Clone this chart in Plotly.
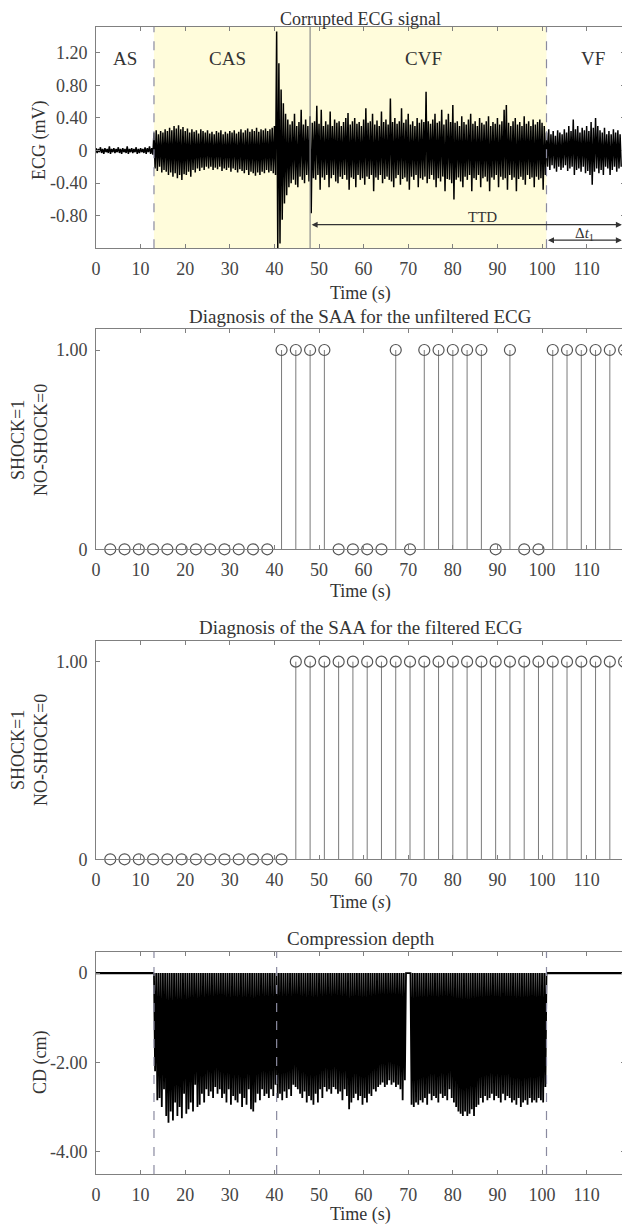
import plotly.graph_objects as go

FONT = "Liberation Serif, DejaVu Serif, serif"

# ---------------- data ----------------
# ECG: local maxima (at t) and minima (at t+0.25) every 0.5 s, t = 0 ... 117.5
ecg_step = 0.5
ecg_hi = [
    0.03, 0.02, 0.04, 0.02, 0.03, 0.02, 0.05, 0.02, 0.03, 0.02,
    0.04, 0.02, 0.03, 0.02, 0.05, 0.02, 0.03, 0.02, 0.04, 0.02,
    0.03, 0.02, 0.04, 0.03, 0.05, 0.03, 0.22, 0.25, 0.20, 0.24,
    0.22, 0.26, 0.24, 0.28, 0.25, 0.30, 0.27, 0.31, 0.26, 0.29,
    0.24, 0.27, 0.22, 0.26, 0.23, 0.25, 0.21, 0.26, 0.24, 0.22,
    0.25, 0.21, 0.23, 0.20, 0.24, 0.22, 0.25, 0.20, 0.23, 0.21,
    0.24, 0.22, 0.25, 0.21, 0.23, 0.26, 0.22, 0.25, 0.27, 0.23,
    0.26, 0.24, 0.28, 0.23, 0.26, 0.25, 0.27, 0.24, 0.26, 0.28,
    0.30, 1.46, 1.07, 0.75, 0.58, 0.45, 0.38, 0.32, 0.36, 0.45,
    0.30, 0.35, 0.50, 0.32, 0.38, 0.30, 0.42, 0.34, 0.36, 0.55,
    0.33, 0.50, 0.30, 0.36, 0.32, 0.48, 0.30, 0.38, 0.34, 0.36,
    0.30, 0.35, 0.40, 0.46, 0.32, 0.36, 0.40, 0.33, 0.35, 0.30,
    0.38, 0.52, 0.34, 0.36, 0.45, 0.32, 0.37, 0.30, 0.48, 0.35,
    0.38, 0.32, 0.64, 0.35, 0.40, 0.33, 0.36, 0.52, 0.34, 0.38,
    0.45, 0.32, 0.36, 0.30, 0.40, 0.34, 0.38, 0.35, 0.72, 0.36,
    0.33, 0.38, 0.45, 0.34, 0.36, 0.50, 0.32, 0.38, 0.45, 0.35,
    0.56, 0.34, 0.36, 0.30, 0.42, 0.35, 0.32, 0.38, 0.45, 0.33,
    0.36, 0.30, 0.40, 0.34, 0.32, 0.36, 0.42, 0.30, 0.35, 0.33,
    0.40, 0.32, 0.36, 0.50, 0.56, 0.34, 0.30, 0.36, 0.40, 0.32,
    0.35, 0.30, 0.42, 0.33, 0.36, 0.30, 0.38, 0.32, 0.35, 0.38,
    0.34, 0.30, 0.22, 0.26, 0.20, 0.24, 0.18, 0.25, 0.22, 0.20,
    0.26, 0.22, 0.30, 0.24, 0.38, 0.26, 0.30, 0.22, 0.28, 0.25,
    0.30, 0.24, 0.35, 0.28, 0.40, 0.30, 0.25, 0.22, 0.28, 0.20,
    0.24, 0.20, 0.26, 0.22, 0.25, 0.20,
]
ecg_lo = [
    -0.03, -0.02, -0.03, -0.04, -0.02, -0.03, -0.04, -0.02, -0.03, -0.02,
    -0.03, -0.04, -0.02, -0.03, -0.04, -0.02, -0.03, -0.02, -0.04, -0.03,
    -0.02, -0.03, -0.04, -0.02, -0.04, -0.05, -0.22, -0.25, -0.20, -0.27,
    -0.24, -0.26, -0.30, -0.27, -0.32, -0.28, -0.34, -0.30, -0.36, -0.29,
    -0.30, -0.26, -0.32, -0.24, -0.27, -0.22, -0.25, -0.21, -0.24, -0.20,
    -0.22, -0.20, -0.24, -0.21, -0.23, -0.20, -0.25, -0.22, -0.24, -0.21,
    -0.26, -0.22, -0.24, -0.27, -0.23, -0.25, -0.28, -0.24, -0.30, -0.26,
    -0.28, -0.31, -0.27, -0.30, -0.26, -0.28, -0.24, -0.27, -0.25, -0.28,
    -0.30, -1.21, -1.14, -0.85, -0.65, -0.55, -0.45, -0.40, -0.36, -0.42,
    -0.45, -0.32, -0.36, -0.40, -0.30, -0.38, -0.77, -0.34, -0.36, -0.30,
    -0.48, -0.33, -0.36, -0.30, -0.45, -0.34, -0.30, -0.38, -0.40, -0.32,
    -0.35, -0.30, -0.36, -0.48, -0.33, -0.35, -0.45, -0.30, -0.36, -0.34,
    -0.42, -0.32, -0.35, -0.30, -0.50, -0.33, -0.36, -0.30, -0.40, -0.35,
    -0.32, -0.36, -0.38, -0.45, -0.34, -0.30, -0.42, -0.35, -0.33, -0.38,
    -0.48, -0.32, -0.36, -0.30, -0.45, -0.34, -0.36, -0.32, -0.40, -0.35,
    -0.30, -0.36, -0.45, -0.34, -0.38, -0.32, -0.50, -0.35, -0.36, -0.40,
    -0.60, -0.36, -0.33, -0.38, -0.45, -0.32, -0.36, -0.30, -0.50, -0.34,
    -0.36, -0.30, -0.45, -0.34, -0.32, -0.38, -0.50, -0.33, -0.36, -0.30,
    -0.45, -0.32, -0.36, -0.34, -0.48, -0.30, -0.36, -0.33, -0.50, -0.35,
    -0.32, -0.36, -0.42, -0.30, -0.35, -0.33, -0.45, -0.32, -0.36, -0.34,
    -0.48, -0.30, -0.20, -0.24, -0.18, -0.22, -0.26, -0.20, -0.24, -0.21,
    -0.18, -0.25, -0.22, -0.20, -0.30, -0.24, -0.22, -0.26, -0.20, -0.28,
    -0.25, -0.30, -0.42, -0.26, -0.22, -0.28, -0.24, -0.30, -0.20, -0.22,
    -0.30, -0.24, -0.20, -0.26, -0.22, -0.20,
]

# SAA diagnoses, one per 3.2 s analysis window
win_len = 3.2
diag_unfiltered = [0, 0, 0, 0, 0, 0, 0, 0, 0, 0, 0, 0,
                   1, 1, 1, 1, 0, 0, 0, 0, 1, 0, 1, 1, 1, 1, 1,
                   0, 1, 0, 0, 1, 1, 1, 1, 1, 1]
diag_filtered = [0, 0, 0, 0, 0, 0, 0, 0, 0, 0, 0, 0, 0,
                 1, 1, 1, 1, 1, 1, 1, 1, 1, 1, 1, 1,
                 1, 1, 1, 1, 1, 1, 1, 1, 1, 1, 1, 1]

# Compression depth: trough depth of each half-second compression, t = 13.0 ... 100.5
cd_start, cd_end, cd_step = 13.0, 101.0, 0.5
cd_depth = [
    -2.2, -2.85, -2.8, -3.0, -2.6, -3.2, -3.35, -3.1, -3.3, -2.9,
    -3.2, -3.0, -3.25, -2.7, -3.15, -3.05, -2.9, -3.1, -2.5, -3.0,
    -2.95, -2.7, -2.9, -2.6, -2.75, -2.65, -2.8, -2.55, -2.7, -2.6,
    -2.8, -2.7, -2.9, -2.6, -2.95, -2.75, -2.85, -2.9, -2.7, -3.0,
    -2.8, -2.95, -2.6, -3.05, -3.1, -2.9, -2.7, -2.85, -2.6, -2.75,
    -2.7, -2.8, -2.6, -2.75, -2.5, -2.8, -2.7, -2.85, -2.65, -2.8,
    -2.6, -2.75, -2.5, -2.55, -2.6, -2.7, -2.8, -2.65, -2.9, -2.75,
    -2.85, -2.95, -2.7, -2.9, -2.6, -2.8, -2.55, -2.65, -2.6, -2.7,
    -2.55, -2.6, -2.7, -2.65, -2.85, -2.6, -2.75, -3.05, -2.9, -2.8,
    -2.7, -2.85, -2.75, -2.95, -2.8, -2.9, -2.7, -2.75, -2.6, -2.65,
    -2.55, -2.5, -2.45, -2.55, -2.5, -2.4, -2.5, -2.45, -2.55, -2.5,
    -2.6, -2.85, -2.4, 0.0, 0.0, -2.95, -3.0, -2.9, -2.95, -2.85,
    -2.9, -2.8, -2.95, -2.7, -2.85, -2.75, -2.8, -2.9, -2.7, -2.8,
    -2.75, -2.85, -2.6, -2.8, -2.9, -3.0, -3.1, -3.15, -3.2, -3.1,
    -3.2, -3.15, -3.05, -3.2, -3.0, -2.95, -2.8, -2.9, -2.75, -2.85,
    -2.8, -2.7, -2.85, -2.75, -2.8, -2.9, -2.7, -2.85, -2.75, -2.8,
    -2.9, -2.85, -2.95, -2.8, -3.0, -2.9, -2.85, -2.95, -2.8, -2.9,
    -2.85, -2.9, -2.8, -2.85, -2.9, -2.55,
]

# phase boundaries (s)
t_cas, t_cvf_start, t_vf, t_end = 13.0, 48.0, 101.0, 118.2
t_cd_mark = 40.5
x_max = 118.6

x_ticks = [0, 10, 20, 30, 40, 50, 60, 70, 80, 90, 100, 110]
ecg_ticks = [1.2, 0.8, 0.4, 0, -0.4, -0.8]
ecg_ticktext = ["1.20", "0.80", "0.40", "0", "-0.40", "-0.80"]
diag_ticks = [0, 1]
diag_ticktext = ["0", "1.00"]
cd_ticks = [0, -2, -4]
cd_ticktext = ["0", "-2.00", "-4.00"]

# ---------------- geometry (page body has an 8 px margin) ----------------
OFF = 8
W, H = 630 - OFF, 1228 - OFF
L, R = 96 - OFF, 5
def py(p):
    return 1 - (p - OFF) / H
def pxp(p):
    return (p - OFF - L) / (W - L - R)

fig = go.Figure()

# ECG zigzag
ex, ey = [], []
for i, (h, l) in enumerate(zip(ecg_hi, ecg_lo)):
    t = i * ecg_step
    ex += [t, t + ecg_step / 2]
    ey += [h, l]
fig.add_trace(go.Scatter(x=ex, y=ey, mode="lines", line=dict(color="black", width=1.5),
                         xaxis="x", yaxis="y", hoverinfo="skip"))

# stems
def stems(vals, xa, ya):
    sx, sy = [], []
    ts = [win_len * (k + 1) for k in range(len(vals))]
    for t, v in zip(ts, vals):
        sx += [t, t, None]
        sy += [0, v, None]
    fig.add_trace(go.Scatter(x=sx, y=sy, mode="lines", line=dict(color="#7a7a7a", width=1),
                             xaxis=xa, yaxis=ya, hoverinfo="skip", cliponaxis=False))
    fig.add_trace(go.Scatter(x=ts, y=vals, mode="markers",
                             marker=dict(symbol="circle-open", size=11, color="#555555",
                                         line=dict(width=1.2, color="#555555")),
                             xaxis=xa, yaxis=ya, cliponaxis=False))

stems(diag_unfiltered, "x2", "y2")
stems(diag_filtered, "x3", "y3")

# compression depth
cx, cy = [], []
for i, d in enumerate(cd_depth):
    t = cd_start + i * cd_step
    cx += [t, t + cd_step / 2]
    cy += [0, d]
cx.append(cd_end)
cy.append(0)
fig.add_trace(go.Scatter(x=cx, y=cy, mode="lines", line=dict(color="black", width=1.8),
                         xaxis="x4", yaxis="y4", hoverinfo="skip"))
fig.add_trace(go.Scatter(x=[0, cd_start, None, cd_end, t_end], y=[0, 0, None, 0, 0],
                         mode="lines", line=dict(color="black", width=2.2),
                         xaxis="x4", yaxis="y4", hoverinfo="skip"))

# ---------------- axes ----------------
tickfont = dict(family=FONT, size=18, color="#444444")
def xax(anchor):
    return dict(range=[0, x_max], tickvals=x_ticks, ticks="inside", ticklen=4,
                tickcolor="#808080", showline=True, linecolor="#808080", linewidth=1,
                mirror="ticks", showgrid=False, zeroline=False, tickfont=tickfont,
                anchor=anchor, domain=[0, 1], ticklabelstandoff=4, automargin=False)

def yax(anchor, dom, rng, tv, tt):
    return dict(range=rng, tickvals=tv, ticktext=tt, ticks="inside", ticklen=4,
                tickcolor="#808080", showline=True, linecolor="#808080", linewidth=1,
                mirror="ticks", showgrid=False, zeroline=False, tickfont=tickfont,
                anchor=anchor, domain=dom, ticklabelstandoff=4, automargin=False)

P1 = [py(248.3), py(26.7)]
P2 = [py(549.3), py(329.3)]
P3 = [py(859.3), py(640.7)]
P4 = [py(1174.0), py(951.7)]

fig.update_layout(
    width=W, height=H,
    margin=dict(l=L, r=R, t=0, b=0, autoexpand=False),
    paper_bgcolor="white", plot_bgcolor="rgba(0,0,0,0)",
    showlegend=False,
    xaxis=xax("y"), xaxis2=xax("y2"), xaxis3=xax("y3"), xaxis4=xax("y4"),
    yaxis=yax("x", P1, [-1.2, 1.52], ecg_ticks, ecg_ticktext),
    yaxis2=yax("x2", P2, [0, 1.104], diag_ticks, diag_ticktext),
    yaxis3=yax("x3", P3, [0, 1.106], diag_ticks, diag_ticktext),
    yaxis4=yax("x4", P4, [-4.5, 0.48], cd_ticks, cd_ticktext),
)

# ---------------- shapes ----------------
dash_col = "#8a8aa0"
shapes = [
    dict(type="rect", xref="x", yref="y domain", x0=t_cas, x1=t_vf, y0=0, y1=1,
         fillcolor="#FFFCDB", line=dict(width=0), layer="below"),
    dict(type="line", xref="x", yref="y domain", x0=t_cvf_start, x1=t_cvf_start, y0=0, y1=1,
         line=dict(color="#8c8c8c", width=1.2)),
]
for t in [t_cas, t_vf, t_end]:
    shapes.append(dict(type="line", xref="x", yref="y domain", x0=t, x1=t, y0=0, y1=1,
                       line=dict(color=dash_col, width=1.2, dash="dash")))
for t in [t_cas, t_cd_mark, t_vf, t_end]:
    shapes.append(dict(type="line", xref="x4", yref="y4 domain", x0=t, x1=t, y0=0, y1=1,
                       line=dict(color=dash_col, width=1.2, dash="dash")))
fig.update_layout(shapes=shapes)

# ---------------- annotations ----------------
ann = []
def txt(x, y, s, xref="paper", yref="paper", size=18, angle=0):
    ann.append(dict(x=x, y=y, xref=xref, yref=yref, text=s, showarrow=False,
                    font=dict(family=FONT, size=size, color="#333333"),
                    textangle=angle, xanchor="center", yanchor="middle"))

# titles
txt(0.5, py(19), "Corrupted ECG signal", size=18)
txt(0.5, py(317), "Diagnosis of the SAA for the unfiltered ECG", size=19)
txt(0.5, py(627), "Diagnosis of the SAA for the filtered ECG", size=19)
txt(0.5, py(938), "Compression depth", size=19)
# x titles
txt(0.5, py(293), "Time (s)")
txt(0.5, py(591), "Time (s)")
txt(0.5, py(902), "Time (<i>s</i>)")
txt(0.5, py(1214), "Time (s)")
# y titles
txt(pxp(40), py(140), "ECG (mV)", angle=-90)
txt(pxp(29), py(440), "SHOCK=1<br>NO-SHOCK=0", angle=-90)
txt(pxp(29), py(750), "SHOCK=1<br>NO-SHOCK=0", angle=-90)
txt(pxp(40), py(1063), "CD (cm)", angle=-90)
# phase labels
for x, s in [(6.5, "AS"), (29.5, "CAS"), (73.5, "CVF"), (111.5, "VF")]:
    txt(x, 1.13, s, xref="x", yref="y", size=19)
txt(86.7, -0.81, "TTD", xref="x", yref="y", size=15)
txt(109.5, -1.02, "Δ<i>t</i><sub>1</sub>", xref="x", yref="y", size=15)

# arrows
for x0, x1, y in [(t_cvf_start, 117.9, -0.91), (t_vf, 117.9, -1.10)]:
    ann.append(dict(x=x1, y=y, ax=x0, ay=y, xref="x", yref="y", axref="x", ayref="y",
                    text="", showarrow=True, arrowhead=2, startarrowhead=2,
                    arrowside="end+start", arrowsize=1, arrowwidth=1.2,
                    arrowcolor="#333333"))
fig.update_layout(annotations=ann)

fig.write_html("out.html")
